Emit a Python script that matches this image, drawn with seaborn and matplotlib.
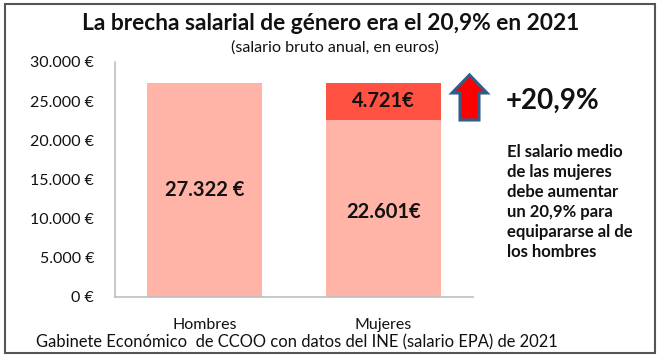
import matplotlib
matplotlib.use("Agg")
import matplotlib.pyplot as plt
import seaborn as sns
import pandas as pd
from matplotlib.patches import Rectangle, Polygon

categories = ["Hombres", "Mujeres"]
base_values = [27322, 22601]
gap_values = [0, 4721]
base_labels = ["27.322 €", "22.601€"]
gap_label = "4.721€"
yticks = [0, 5000, 10000, 15000, 20000, 25000, 30000]
ytick_labels = ["0 €", "5.000 €", "10.000 €", "15.000 €", "20.000 €", "25.000 €", "30.000 €"]

sns.set_theme(style="white")
FONT = ["Lato", "DejaVu Sans"]
plt.rcParams["font.family"] = FONT

W, H = 665, 360
fig = plt.figure(figsize=(W / 100, H / 100), dpi=100)

def fx(x):
    return x / W

def fy(y):
    return 1 - y / H

ax = fig.add_axes([fx(115), fy(297), fx(473) - fx(115), fy(62) - fy(297)])

light = "#FFB4A7"
dark = "#FF5242"
df = pd.DataFrame({"cat": categories, "base": base_values, "gap": gap_values})
df["total"] = df["base"] + df["gap"]

sns.barplot(data=df, x="cat", y="total", color=dark, width=0.64, ax=ax,
            saturation=1, linewidth=0)
sns.barplot(data=df, x="cat", y="base", color=light, width=0.64, ax=ax,
            saturation=1, linewidth=0)

ax.set_xlim(-0.5, 1.5)
ax.set_ylim(0, 30000)
ax.set_yticks(yticks)
ax.set_yticklabels(ytick_labels, fontsize=11.5, color="#111111")
ax.set_xticks([0, 1])
ax.set_xticklabels(categories, fontsize=11.5, color="#111111")
ax.tick_params(axis="y", length=0, pad=15)
ax.tick_params(axis="x", length=0, pad=15)
ax.set_xlabel("")
ax.set_ylabel("")
for s in ["top", "right"]:
    ax.spines[s].set_visible(False)
for s in ["left", "bottom"]:
    ax.spines[s].set_color("#BFBFBF")
    ax.spines[s].set_linewidth(1.2)

for i, (b, lab) in enumerate(zip(base_values, base_labels)):
    ax.text(i, b / 2 if i == 0 else b / 2 - 500, lab, ha="center", va="center",
            fontsize=14.5, fontweight="bold", color="#111111")
ax.text(1, base_values[1] + gap_values[1] / 2, gap_label, ha="center", va="center",
        fontsize=14.5, fontweight="bold", color="#111111")

# Title / subtitle
fig.text(fx(331), fy(23), "La brecha salarial de género era el 20,9% en 2021",
         ha="center", va="center", fontsize=16.4, fontweight="bold", color="#111111")
fig.text(fx(335), fy(48), "(salario bruto anual, en euros)",
         ha="center", va="center", fontsize=11.6, color="#111111")

# Footer
fig.text(fx(36), fy(342), "Gabinete Económico  de CCOO con datos del INE (salario EPA) de 2021",
         ha="left", va="center", fontsize=11.9, color="#111111")

# Right annotations
fig.text(fx(506), fy(101), "+20,9%", ha="left", va="center",
         fontsize=20, fontweight="bold", color="#111111")
fig.text(fx(507), fy(202),
         "El salario medio\nde las mujeres\ndebe aumentar\nun 20,9% para\nequipararse al de\nlos hombres",
         ha="left", va="center", fontsize=12, fontweight="bold", color="#111111",
         linespacing=1.3)

# Arrow shape
pts = [(469.5, 75), (487, 93), (479, 93), (479, 120), (460, 120), (460, 93), (452, 93)]
arrow = Polygon([(fx(x), fy(y)) for x, y in pts], closed=True, transform=fig.transFigure,
                facecolor="#FF0000", edgecolor="#2F5D8A", linewidth=2.2, joinstyle="miter")
fig.patches.append(arrow)

# Outer border
border = Rectangle((fx(5), fy(353)), fx(655) - fx(5), fy(4) - fy(353),
                   transform=fig.transFigure, fill=False, edgecolor="#555555", linewidth=1.5)
fig.patches.append(border)

fig.savefig("out.png", dpi=100)
